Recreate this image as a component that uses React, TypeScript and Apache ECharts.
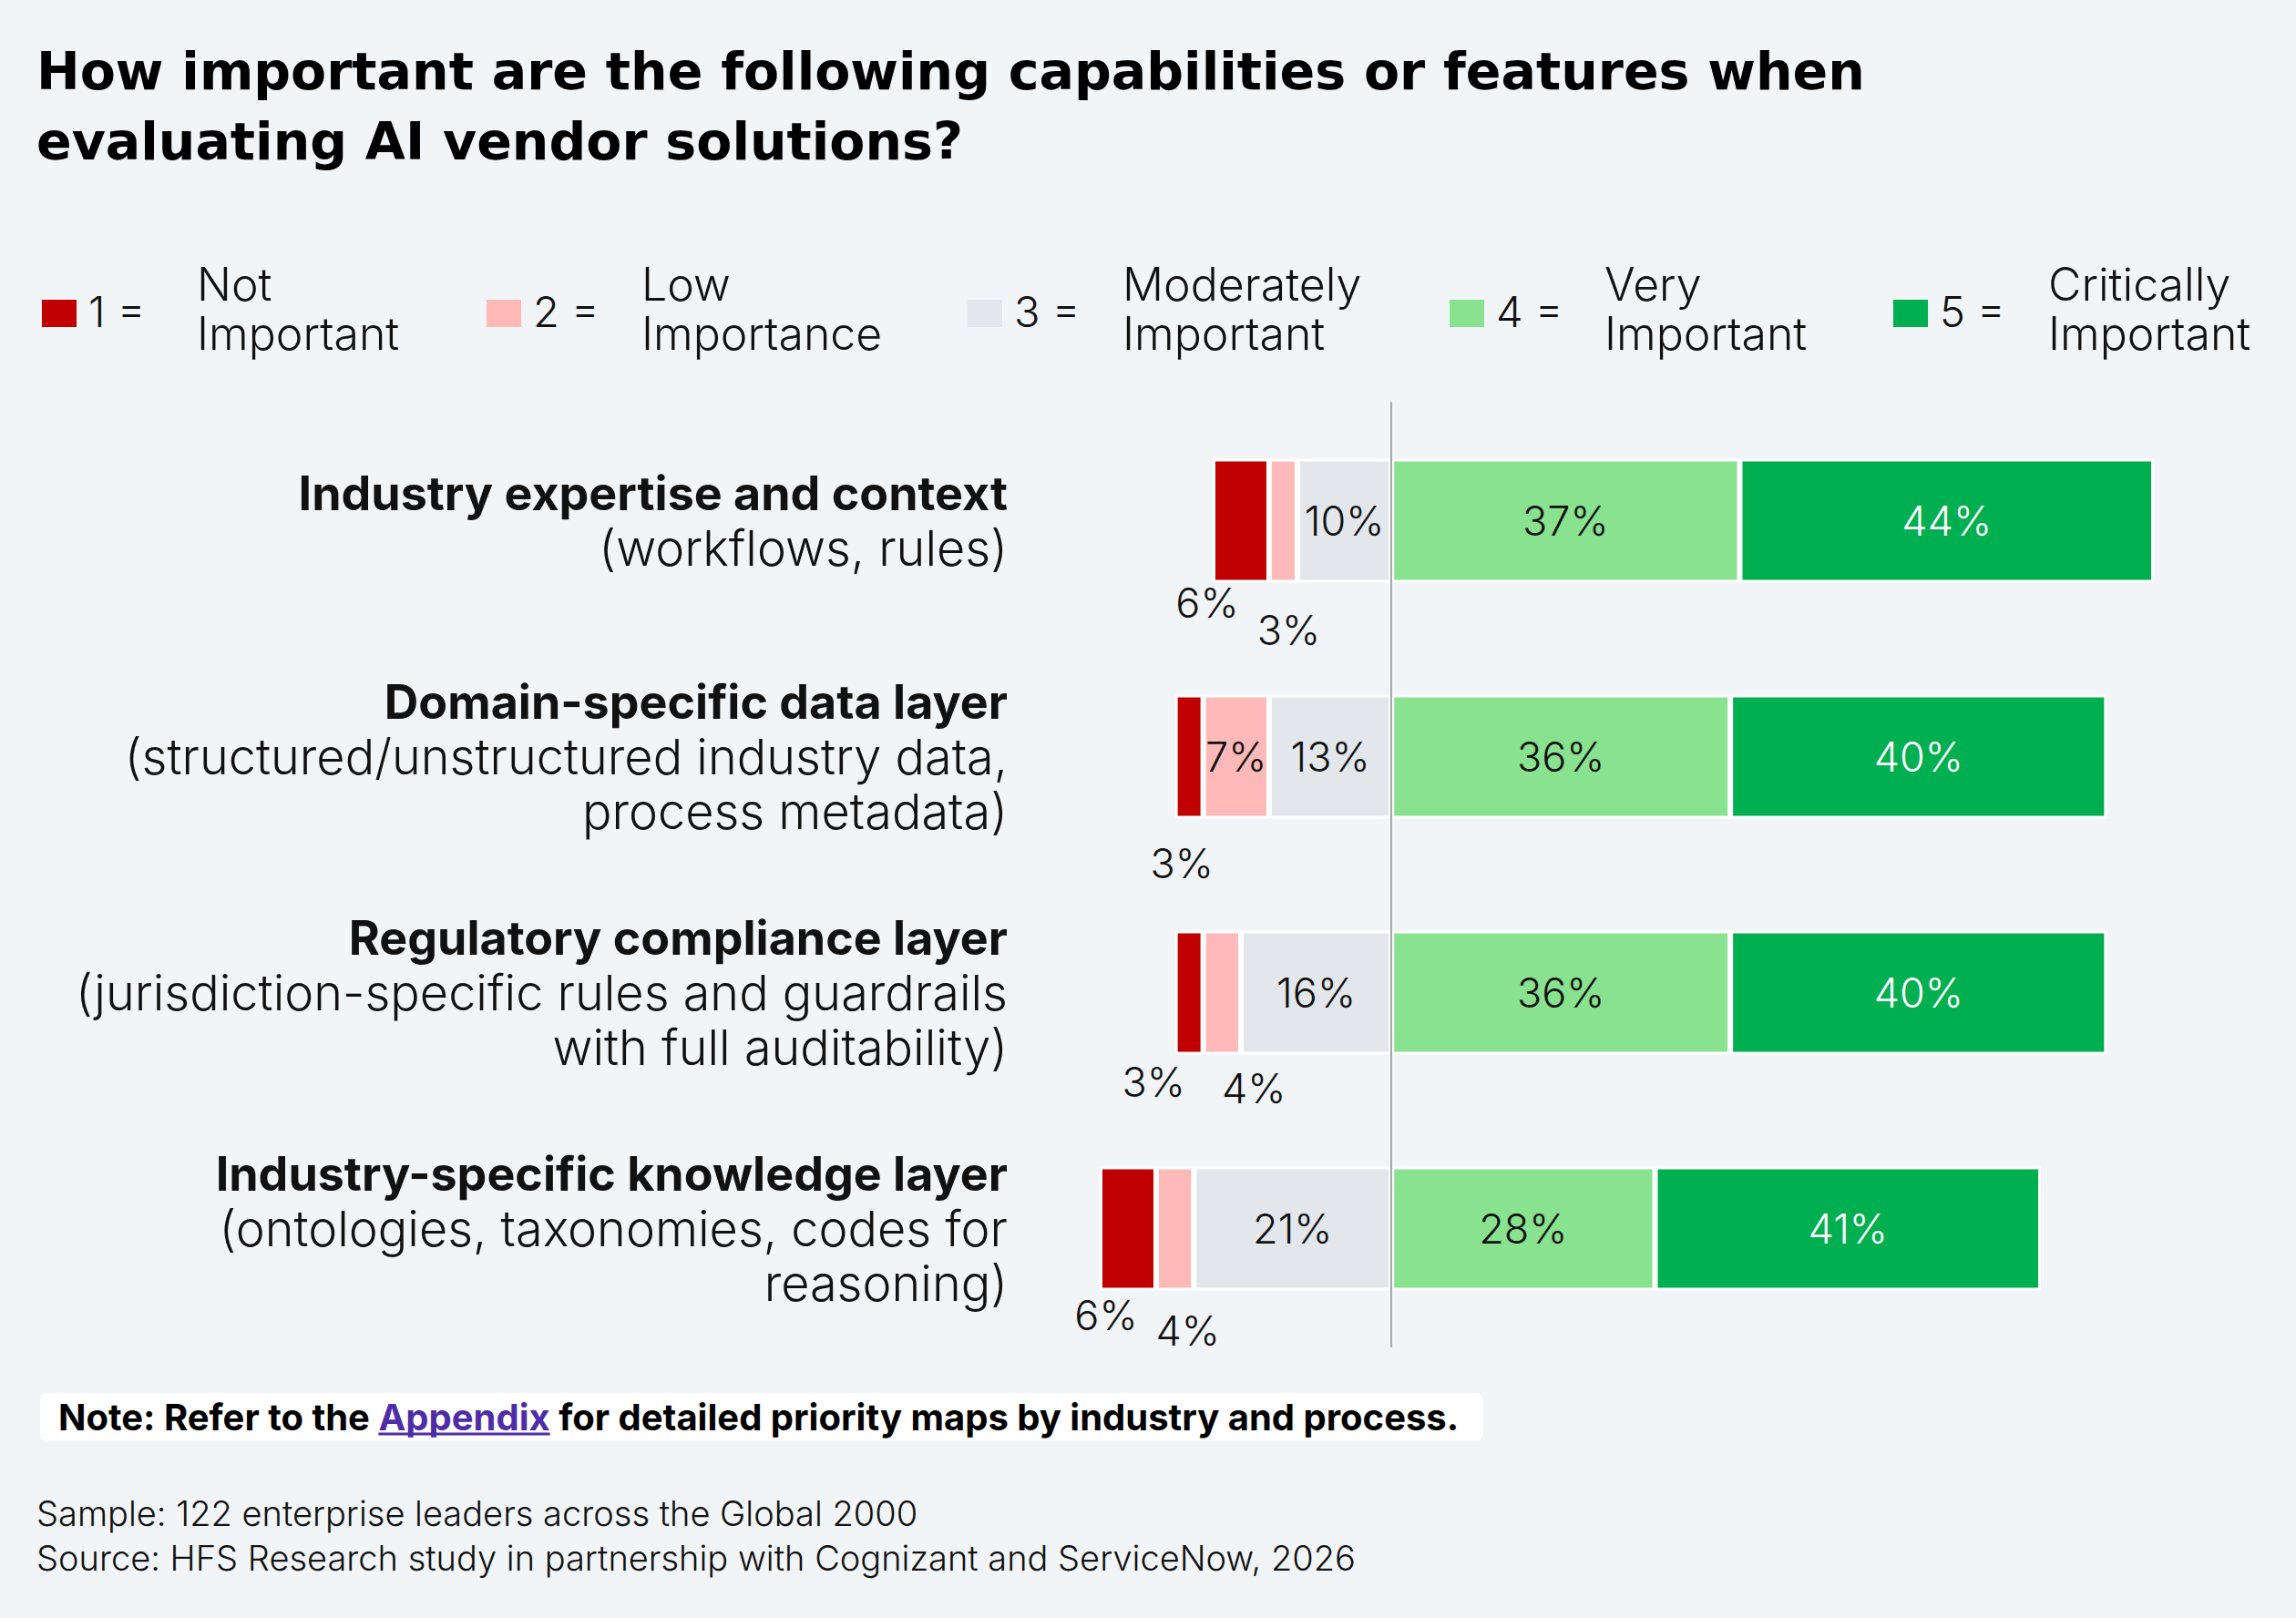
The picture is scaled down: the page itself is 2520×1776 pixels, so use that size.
import React, { useEffect, useRef } from 'react';
import * as echarts from 'echarts';

// ---------- Data ----------
const categoryTitles = [
  'Industry expertise and context',
  'Domain-specific data layer',
  'Regulatory compliance layer',
  'Industry-specific knowledge layer',
];
const categorySubtitles = [
  ['(workflows, rules)'],
  ['(structured/unstructured industry data,', 'process metadata)'],
  ['(jurisdiction-specific rules and guardrails', 'with full auditability)'],
  ['(ontologies, taxonomies, codes for', 'reasoning)'],
];
const notImportant = [6, 3, 3, 6];
const lowImportance = [3, 7, 4, 4];
const moderatelyImportant = [10, 13, 16, 21];
const veryImportant = [37, 36, 36, 28];
const criticallyImportant = [44, 40, 40, 41];

const legendKeys = ['1 =', '2 =', '3 =', '4 =', '5 ='];
const legendNames = [
  'Not\nImportant',
  'Low\nImportance',
  'Moderately\nImportant',
  'Very\nImportant',
  'Critically\nImportant',
];

const titleText = 'How important are the following capabilities or features when\nevaluating AI vendor solutions?';
const notePrefix = 'Note: Refer to the ';
const noteLink = 'Appendix';
const noteSuffix = ' for detailed priority maps by industry and process.';
const footerText =
  'Sample: 122 enterprise leaders across the Global 2000\nSource: HFS Research study in partnership with Cognizant and ServiceNow, 2026';

// ---------- Styles / layout ----------
const FONT = "Inter, 'Noto Sans', sans-serif";
const TITLE_FONT = "'DejaVu Sans', Inter, sans-serif";
const COLORS = ['#C00000', '#FFB9B9', '#E3E7EC', '#88E28F', '#00AF50'];
const BG = '#F2F5F8';
const LEGEND_X = [46, 534, 1062, 1591, 2078];
// label offsets (px, relative to segment centre) for small segments whose labels sit below the bar
const notImportantLabelOffsets = [[-37, 90], [-8, 117], [-39, 98], [-24, 95]];
const lowImportanceLabelOffsets = [[6, 120], null, [35, 105], [14, 112]];

function measure(text: string, font: string): number {
  const ctx = document.createElement('canvas').getContext('2d');
  if (!ctx) return text.length * 20;
  ctx.font = font;
  return ctx.measureText(text).width;
}

export default function App() {
  const ref = useRef<HTMLDivElement>(null);

  useEffect(() => {
    if (!ref.current) return;
    const chart = echarts.init(ref.current, null, { renderer: 'svg' });

    const labelBase = {
      show: true,
      position: 'inside',
      fontFamily: FONT,
      fontSize: 45,
      fontWeight: 300,
      color: '#111',
      formatter: (p: any) => Math.abs(p.value) + '%',
    };

    const makeData = (vals: number[], neg: boolean, offsets: any[] | null) =>
      vals.map((v, i) => {
        const item: any = { value: neg ? -v : v };
        if (offsets && offsets[i]) item.label = { offset: offsets[i] };
        return item;
      });

    const defs = [
      { name: 'Moderately Important', vals: moderatelyImportant, color: COLORS[2], neg: true, offsets: null, lc: '#111' },
      { name: 'Low Importance', vals: lowImportance, color: COLORS[1], neg: true, offsets: lowImportanceLabelOffsets, lc: '#111' },
      { name: 'Not Important', vals: notImportant, color: COLORS[0], neg: true, offsets: notImportantLabelOffsets, lc: '#111' },
      { name: 'Very Important', vals: veryImportant, color: COLORS[3], neg: false, offsets: null, lc: '#111' },
      { name: 'Critically Important', vals: criticallyImportant, color: COLORS[4], neg: false, offsets: null, lc: '#ffffff' },
    ];

    const series = defs.map((d) => ({
      type: 'bar',
      name: d.name,
      stack: 'total',
      barWidth: 136,
      data: makeData(d.vals, d.neg, d.offsets),
      itemStyle: { color: d.color, borderColor: '#ffffff', borderWidth: 3 },
      label: { ...labelBase, color: d.lc },
      emphasis: { disabled: true },
    }));

    // Legend drawn as graphics
    const legendGraphics: any[] = [];
    legendKeys.forEach((k, i) => {
      const x = LEGEND_X[i];
      legendGraphics.push({
        type: 'rect',
        shape: { x, y: 329, width: 38, height: 30 },
        style: { fill: COLORS[i] },
      });
      legendGraphics.push({
        type: 'text',
        x: x + 51,
        y: 341,
        style: { text: k, font: `300 47px ${FONT}`, fill: '#111', verticalAlign: 'middle', align: 'left' },
      });
      legendGraphics.push({
        type: 'text',
        x: x + 170,
        y: 285,
        style: {
          text: legendNames[i],
          font: `300 50px ${FONT}`,
          lineHeight: 54,
          fill: '#111',
          verticalAlign: 'top',
          align: 'left',
        },
      });
    });

    const noteFont = `bold 40px ${FONT}`;
    const noteX = 64;
    const w1 = measure(notePrefix, noteFont);
    const w2 = measure(noteLink, noteFont);

    const option: any = {
      animation: false,
      backgroundColor: BG,
      textStyle: { fontFamily: FONT },
      grid: {
        left: 1114,
        width: 1343,
        top: 442,
        height: 1036,
        containLabel: false,
        outerBoundsMode: 'none',
      },
      xAxis: {
        type: 'value',
        min: -40,
        max: 90,
        show: false,
        splitLine: { show: false },
      },
      yAxis: {
        type: 'category',
        inverse: true,
        data: categoryTitles,
        z: 10,
        axisLine: { show: true, onZero: true, lineStyle: { color: '#A6A6A6', width: 2 } },
        axisTick: { show: false },
        axisLabel: {
          margin: 8,
          align: 'right',
          formatter: (value: string, index: number) => {
            const subs = categorySubtitles[index].map((s) => `{r|${s}}`).join('\n');
            return `{b|${value}}\n${subs}`;
          },
          rich: {
            b: { fontFamily: FONT, fontSize: 52, fontWeight: 'bold', lineHeight: 60, color: '#111', align: 'right' },
            r: { fontFamily: FONT, fontSize: 54, fontWeight: 300, lineHeight: 60, color: '#111', align: 'right' },
          },
        },
      },
      series,
      graphic: [
        {
          type: 'text',
          x: 40,
          y: 39,
          style: {
            text: titleText,
            font: `bold 57px ${TITLE_FONT}`,
            lineHeight: 77,
            fill: '#000',
            verticalAlign: 'top',
            align: 'left',
          },
        },
        ...legendGraphics,
        {
          type: 'rect',
          shape: { x: 44, y: 1529, width: 1584, height: 52, r: 8 },
          style: { fill: '#ffffff' },
        },
        {
          type: 'text',
          x: noteX,
          y: 1555,
          style: {
            text: `{b|${notePrefix}}{a|${noteLink}}{b|${noteSuffix}}`,
            verticalAlign: 'middle',
            align: 'left',
            rich: {
              b: { font: noteFont, fill: '#000', color: '#000' },
              a: { font: noteFont, fill: '#4F2DA7', color: '#4F2DA7' },
            },
          },
        },
        {
          type: 'line',
          shape: { x1: noteX + w1, y1: 1574, x2: noteX + w1 + w2, y2: 1574 },
          style: { stroke: '#4F2DA7', lineWidth: 3 },
        },
        {
          type: 'text',
          x: 40,
          y: 1636,
          style: {
            text: footerText,
            font: `300 38px ${FONT}`,
            lineHeight: 49,
            fill: '#111',
            verticalAlign: 'top',
            align: 'left',
          },
        },
      ],
    };

    chart.setOption(option);
    return () => chart.dispose();
  }, []);

  return (
    <div
      ref={ref}
      style={{ position: 'absolute', left: 0, top: 0, width: 2520, height: 1776 }}
    />
  );
}
